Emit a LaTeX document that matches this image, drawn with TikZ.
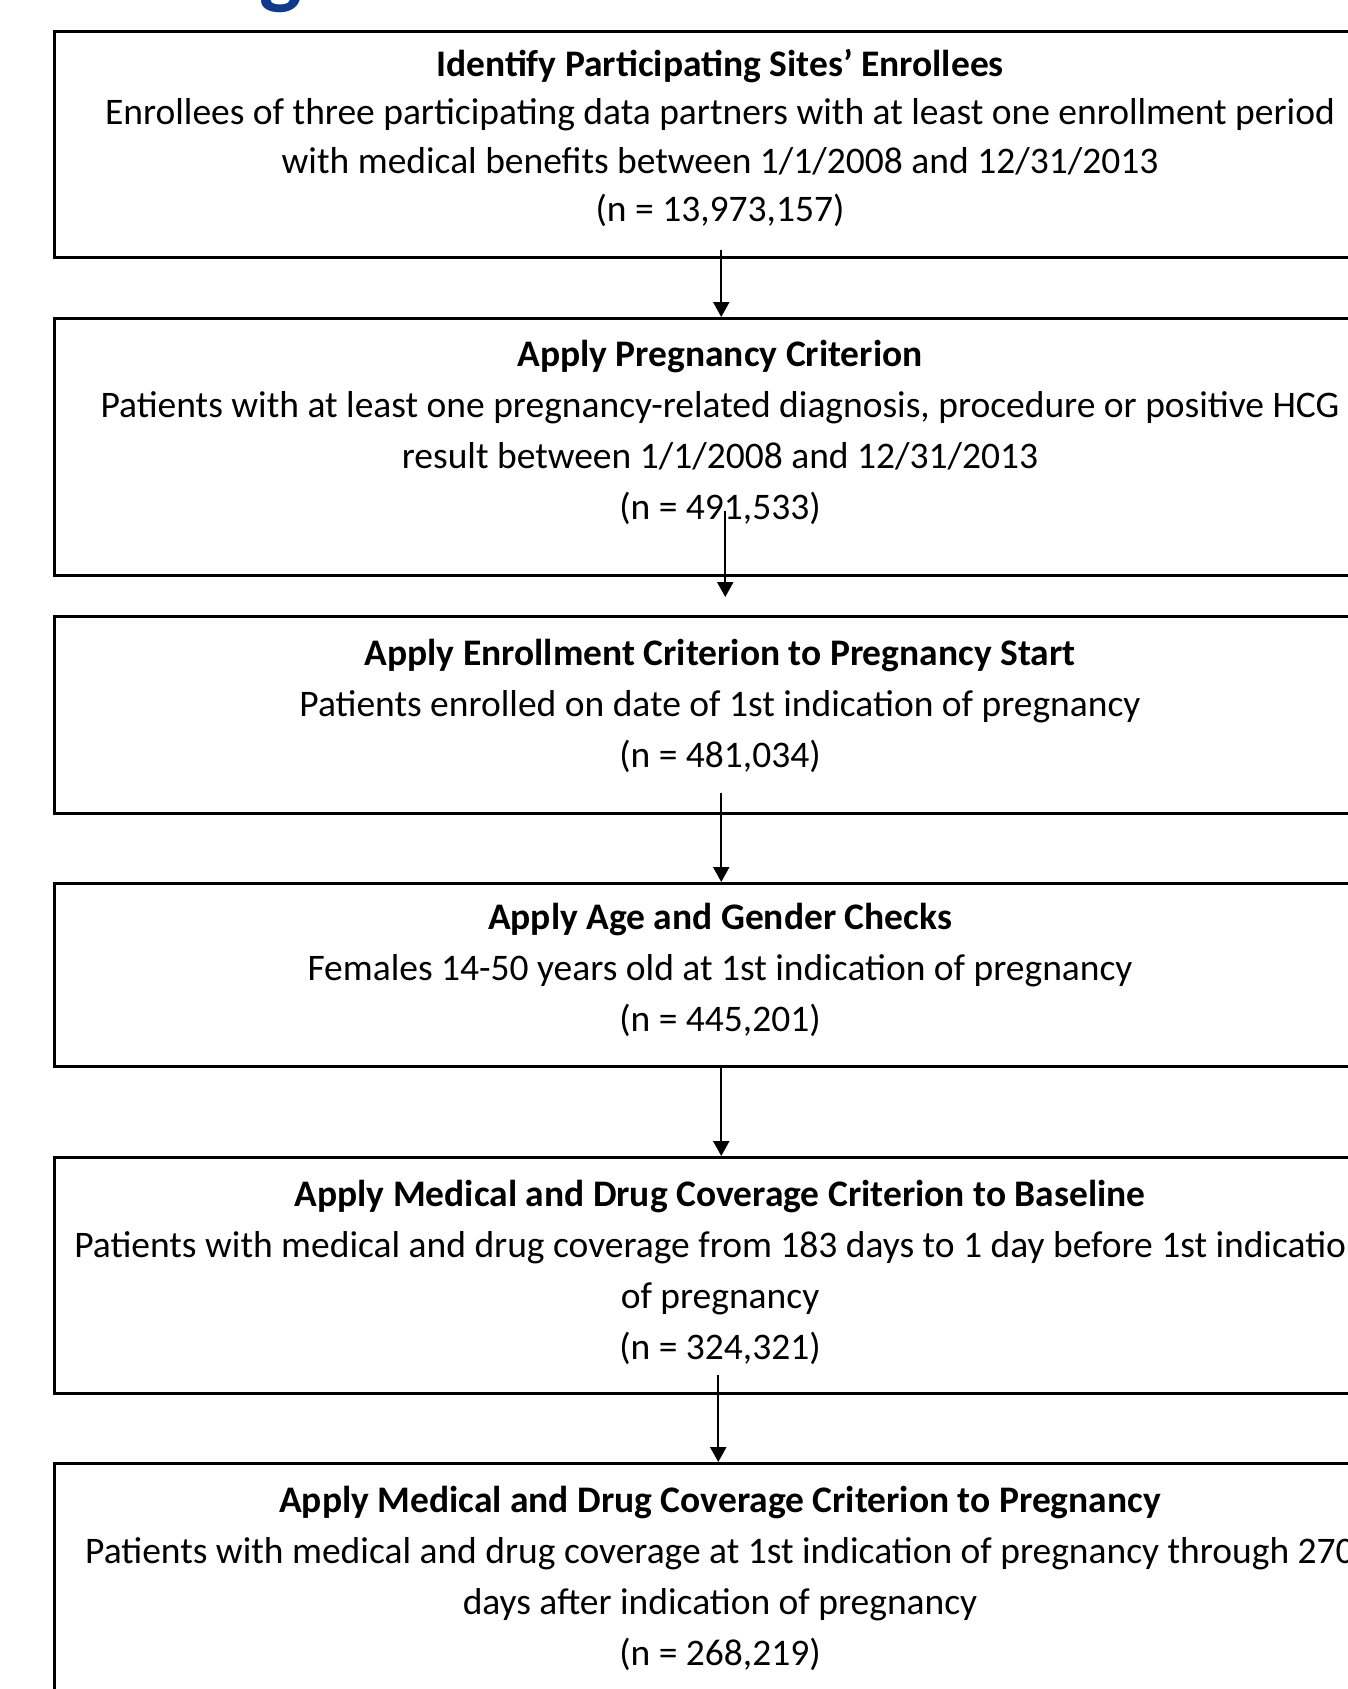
\documentclass[tikz,border=0pt]{standalone}
\usepackage{fontspec}
\setmainfont{Carlito}
\usetikzlibrary{arrows.meta}
\definecolor{titleblue}{RGB}{12,59,140}
\begin{document}
\begin{tikzpicture}[x=1pt,y=-1pt,
  box/.style={draw, line width=2.5pt, minimum width=1334pt, inner sep=0pt, anchor=north west},
  txt/.style={align=center, font=\fontsize{37.5}{51}\selectfont, inner sep=0pt},
  arr/.style={line width=2.2pt, -{Triangle[width=16pt,length=15pt]}}]
\useasboundingbox (0,0) rectangle (1348,1689);
\clip (0,0) rectangle (1348,1689);
\node[anchor=base west, font=\fontsize{90}{90}\selectfont\bfseries, text=titleblue, inner sep=0pt] (g) at (259,-2) {g};
\node[box, minimum height=226pt] (b1) at (53,30) {};
\node[box, minimum height=257pt] (b2) at (53,317) {};
\node[box, minimum height=197pt] (b3) at (53,615) {};
\node[box, minimum height=183pt] (b4) at (53,882) {};
\node[box, minimum height=236pt] (b5) at (53,1156) {};
\node[box, minimum height=258pt] (b6) at (53,1462) {};
\node[txt, font=\fontsize{37.5}{48.5}\selectfont] (t1) at (720,138) {\textbf{Identify Participating Sites’ Enrollees}\\Enrollees of three participating data partners with at least one enrollment period\\with medical benefits between 1/1/2008 and 12/31/2013\\(n = 13,973,157)};
\node[txt] (t2) at (720,432) {\textbf{Apply Pregnancy Criterion}\\Patients with at least one pregnancy-related diagnosis, procedure or positive HCG\\result between 1/1/2008 and 12/31/2013\\(n = 491,533)};
\node[txt] (t3) at (720,706) {\textbf{Apply Enrollment Criterion to Pregnancy Start}\\Patients enrolled on date of 1st indication of pregnancy\\(n = 481,034)};
\node[txt] (t4) at (720,970) {\textbf{Apply Age and Gender Checks}\\Females 14-50 years old at 1st indication of pregnancy\\(n = 445,201)};
\node[txt] (t5) at (720,1272) {\textbf{Apply Medical and Drug Coverage Criterion to Baseline}\\Patients with medical and drug coverage from 183 days to 1 day before 1st indication\\of pregnancy\\(n = 324,321)};
\node[txt] (t6) at (720,1578) {\textbf{Apply Medical and Drug Coverage Criterion to Pregnancy}\\Patients with medical and drug coverage at 1st indication of pregnancy through 270\\days after indication of pregnancy\\(n = 268,219)};
\draw[arr] ([yshift=9pt]b1.south) -- (b2.north);
\draw[arr] ([xshift=4pt,yshift=66pt]b2.south) -- ([xshift=4pt,yshift=18pt]b3.north);
\draw[arr] ([yshift=22pt]b3.south) -- (b4.north);
\draw[arr] (b4.south) -- (b5.north);
\draw[arr] ([xshift=-3pt,yshift=20pt]b5.south) -- ([xshift=-3pt]b6.north);
\end{tikzpicture}
\end{document}
